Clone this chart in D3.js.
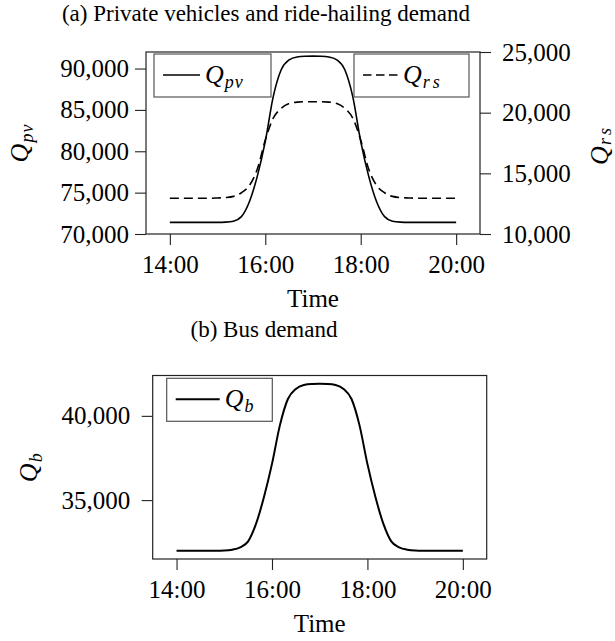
<!DOCTYPE html>
<html>
<head>
<meta charset="utf-8">
<script src="https://cdn.jsdelivr.net/npm/d3@7"></script>
<style>
  body { margin: 0; background: #fff; }
  svg { display: block; }
  text { font-family: "Liberation Serif", "Times New Roman", serif; fill: #000; }
</style>
</head>
<body>
<svg id="chart" width="615" height="641"></svg>
<script>
// sample times, every 10 minutes
var times = ["14:00", "14:10", "14:20", "14:30", "14:40", "14:50",
  "15:00", "15:10", "15:20", "15:30", "15:40", "15:50",
  "16:00", "16:10", "16:20", "16:30", "16:40", "16:50",
  "17:00", "17:10", "17:20", "17:30", "17:40", "17:50",
  "18:00", "18:10", "18:20", "18:30", "18:40", "18:50",
  "19:00", "19:10", "19:20", "19:30", "19:40", "19:50", "20:00"];

// private vehicles
var pvDemand = [71400, 71400, 71400, 71400, 71400, 71400,
  71400, 71430, 71550, 72100, 73900, 77000,
  81200, 86600, 89850, 91050, 91400, 91480,
  91500, 91480, 91400, 91050, 89850, 86600,
  81200, 77000, 73900, 72100, 71550, 71430,
  71400, 71400, 71400, 71400, 71400, 71400, 71400];

// ride-hailing
var rsDemand = [12950, 12950, 12950, 12950, 12950, 12950,
  12970, 13000, 13100, 13400, 14000, 15350,
  17750, 19550, 20350, 20750, 20870, 20900,
  20900, 20900, 20870, 20750, 20350, 19550,
  17750, 15350, 14000, 13400, 13100, 13000,
  12970, 12950, 12950, 12950, 12950, 12950, 12950];

// bus
var busDemand = [32000, 32000, 32000, 32000, 32000, 32000,
  32010, 32060, 32200, 32550, 33600, 35200,
  37150, 39450, 41000, 41600, 41830, 41890,
  41900, 41890, 41830, 41600, 41000, 39450,
  37150, 35200, 33600, 32550, 32200, 32060,
  32010, 32000, 32000, 32000, 32000, 32000, 32000];

var timeTicks = ["14:00", "16:00", "18:00", "20:00"];
var pvTicks = [70000, 75000, 80000, 85000, 90000];
var rsTicks = [10000, 15000, 20000, 25000];
var busTicks = [35000, 40000];

function toHours(s) {
  var p = s.split(":");
  return +p[0] + p[1] / 60;
}
function hoursLabel(h) {
  return d3.format("02")(Math.floor(h)) + ":" + d3.format("02")(Math.round((h % 1) * 60));
}
var hours = times.map(toHours);
var fmt = d3.format(",");

var svg = d3.select("#chart");

// style an axis: serif labels, no domain path
function styleAxis(g, size) {
  g.select(".domain").remove();
  g.selectAll(".tick line").attr("stroke", "#222").attr("stroke-width", 1.1);
  g.selectAll(".tick text")
    .style("font-family", '"Liberation Serif", "Times New Roman", serif')
    .style("font-size", size + "px")
    .attr("fill", "#000");
}

// math-style label Q_sub
function mathLabel(sel, sub, spacing, shift) {
  sel.append("tspan").style("font-style", "italic").style("font-size", "26px").text("Q");
  sel.append("tspan").style("font-style", "italic").style("font-size", "18px")
    .attr("dx", 1).attr("dy", shift || 5).attr("letter-spacing", spacing || 1).text(sub);
}

function drawPanel(opt) {
  var f = opt.frame;
  var x = d3.scaleLinear().domain([13.5, 20.5]).range([f.x, f.x + f.w]);
  var g = svg.append("g");

  // frame
  g.append("rect")
    .attr("x", f.x).attr("y", f.y).attr("width", f.w).attr("height", f.h)
    .attr("fill", "none").attr("stroke", "#222").attr("stroke-width", 1.2);

  // x axis
  var xa = g.append("g")
    .attr("transform", "translate(0," + (f.y + f.h) + ")")
    .call(d3.axisBottom(x).tickValues(timeTicks.map(toHours)).tickFormat(hoursLabel).tickSize(11).tickSizeOuter(0));
  styleAxis(xa, 25);
  xa.selectAll(".tick text").attr("dy", null).attr("y", 39);

  g.append("text")
    .attr("x", f.x + f.w / 2).attr("y", f.y + f.h + 73)
    .attr("text-anchor", "middle").style("font-size", "25px").text("Time");

  // left axis
  var yl = d3.scaleLinear().domain(opt.leftDomain).range([f.y + f.h, f.y]);
  var la = g.append("g")
    .attr("transform", "translate(" + f.x + ",0)")
    .call(d3.axisLeft(yl).tickValues(opt.leftTicks).tickFormat(fmt).tickSize(11).tickPadding(opt.leftPad).tickSizeOuter(0));
  styleAxis(la, 25);

  g.append("text")
    .attr("transform", "translate(" + opt.leftLabelX + "," + (f.y + f.h / 2) + ") rotate(-90)")
    .attr("text-anchor", "middle")
    .call(mathLabel, opt.leftSub);

  var series = [{ values: opt.leftValues, y: yl, dash: null }];

  // right axis (optional)
  if (opt.rightValues) {
    var yr = d3.scaleLinear().domain(opt.rightDomain).range([f.y + f.h, f.y]);
    var ra = g.append("g")
      .attr("transform", "translate(" + (f.x + f.w) + ",0)")
      .call(d3.axisRight(yr).tickValues(opt.rightTicks).tickFormat(fmt).tickSize(11).tickPadding(11).tickSizeOuter(0));
    styleAxis(ra, 25);
    g.append("text")
      .attr("transform", "translate(608," + (f.y + f.h / 2 + 2) + ") rotate(-90)")
      .attr("text-anchor", "middle")
      .call(mathLabel, opt.rightSub, 3, 3);
    series.push({ values: opt.rightValues, y: yr, dash: "9,5" });
  }

  // curves
  series.forEach(function (s) {
    var line = d3.line()
      .x(function (d, i) { return x(hours[i]); })
      .y(function (d) { return s.y(d); })
      .curve(d3.curveMonotoneX);
    g.append("path")
      .datum(s.values)
      .attr("d", line)
      .attr("fill", "none")
      .attr("stroke", "#000")
      .attr("stroke-width", opt.lineWidth)
      .attr("stroke-dasharray", s.dash);
  });

  // legends
  opt.legends.forEach(function (L) {
    var lg = g.append("g").attr("transform", "translate(" + L.x + "," + L.y + ")");
    lg.append("rect").attr("width", L.w).attr("height", 43)
      .attr("fill", "#fff").attr("stroke", "#555").attr("stroke-width", 1.2);
    lg.append("line").attr("x1", 9).attr("x2", 9 + L.len).attr("y1", 21).attr("y2", 21)
      .attr("stroke", "#000").attr("stroke-width", opt.lineWidth)
      .attr("stroke-dasharray", L.dash ? "8.5,4.5" : null);
    lg.append("text").attr("x", L.len + 14).attr("y", 29).call(mathLabel, L.sub, L.spacing);
  });
}

// titles
svg.append("text").attr("x", 266).attr("y", 20.5).attr("text-anchor", "middle")
  .style("font-size", "23px").text("(a) Private vehicles and ride-hailing demand");
svg.append("text").attr("x", 264).attr("y", 337).attr("text-anchor", "middle")
  .style("font-size", "23px").text("(b) Bus demand");

drawPanel({
  frame: { x: 146, y: 52, w: 334, h: 182 },
  leftDomain: [70000, 92000],
  leftTicks: pvTicks,
  leftValues: pvDemand,
  leftSub: "pv",
  leftLabelX: 28,
  leftPad: 6,
  rightDomain: [10000, 25000],
  rightTicks: rsTicks,
  rightValues: rsDemand,
  rightSub: "rs",
  lineWidth: 1.6,
  legends: [
    { x: 154, y: 54, w: 117, len: 37, sub: "pv", dash: false, spacing: 1 },
    { x: 354, y: 54, w: 115, len: 35, sub: "rs", dash: true, spacing: 3 }
  ]
});

var busExt = d3.extent(busDemand);
var busPad = (busExt[1] - busExt[0]) * 0.05;

drawPanel({
  frame: { x: 152.7, y: 375.5, w: 334, h: 183.5 },
  leftDomain: [busExt[0] - busPad, busExt[1] + busPad],
  leftTicks: busTicks,
  leftValues: busDemand,
  leftSub: "b",
  leftLabelX: 37,
  leftPad: 11.5,
  lineWidth: 2,
  legends: [
    { x: 166.7, y: 378.3, w: 105.6, len: 44, sub: "b", dash: false, spacing: 1 }
  ]
});
</script>
</body>
</html>
